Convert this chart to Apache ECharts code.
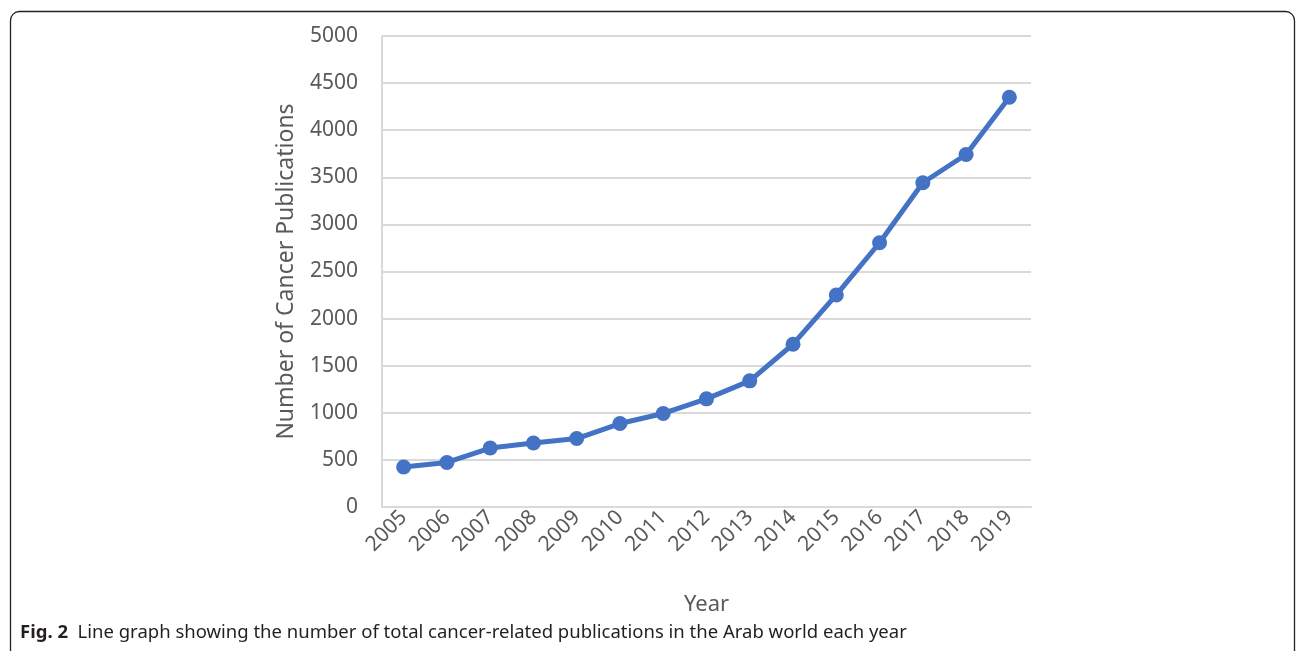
<!DOCTYPE html>
<html>
<head>
<meta charset="utf-8">
<script src="https://cdn.jsdelivr.net/npm/echarts@6/dist/echarts.min.js"></script>
<style>
  html, body { margin: 0; padding: 0; background: #fff; }
  #chart { width: 1296px; height: 651px; }
</style>
</head>
<body>
<div id="chart"></div>
<script>
// Annual counts of cancer-related publications, 2005–2019
const years = ['2005', '2006', '2007', '2008', '2009', '2010', '2011', '2012',
               '2013', '2014', '2015', '2016', '2017', '2018', '2019'];
const publications = [424, 473, 626, 679, 727, 886, 993, 1148,
                      1339, 1728, 2251, 2805, 3442, 3742, 4350];

const yAxisTitle = 'Number of Cancer Publications';
const xAxisTitle = 'Year';
const captionLead = 'Fig. 2';
const captionText = 'Line graph showing the number of total cancer-related publications in the Arab world each year';

const FONT = '"Noto Sans", "Open Sans", sans-serif';
const GREY_TEXT = '#595959';
const GRID_GREY = '#d9d9d9';

const chart = echarts.init(document.getElementById('chart'), null, { renderer: 'canvas' });

chart.setOption({
  animation: false,
  backgroundColor: '#ffffff',
  grid: { left: 382, right: 265, top: 36, bottom: 144 },
  xAxis: {
    type: 'category',
    data: years,
    boundaryGap: true,
    name: xAxisTitle,
    nameLocation: 'middle',
    nameGap: 87,
    nameTextStyle: { fontFamily: FONT, fontSize: 22, color: GREY_TEXT },
    axisLine: { show: true, lineStyle: { color: GRID_GREY, width: 2 } },
    axisTick: { show: false },
    axisLabel: {
      rotate: 45,
      margin: 7,
      fontFamily: FONT,
      fontSize: 21,
      color: GREY_TEXT
    },
    splitLine: { show: false }
  },
  yAxis: {
    type: 'value',
    min: 0,
    max: 5000,
    interval: 500,
    name: yAxisTitle,
    nameLocation: 'middle',
    nameGap: 84,
    nameRotate: 90,
    nameTextStyle: { fontFamily: FONT, fontSize: 23, color: GREY_TEXT },
    axisLine: { show: true, lineStyle: { color: GRID_GREY, width: 2 } },
    axisTick: { show: false },
    axisLabel: {
      margin: 24,
      fontFamily: FONT,
      fontSize: 21,
      color: GREY_TEXT,
      formatter: v => String(v)
    },
    splitLine: { show: true, lineStyle: { color: GRID_GREY, width: 2 } }
  },
  series: [{
    type: 'line',
    data: publications,
    symbol: 'circle',
    symbolSize: 15,
    lineStyle: { color: '#4472c4', width: 5 },
    itemStyle: { color: '#4472c4' }
  }],
  graphic: [
    {
      type: 'rect',
      shape: { x: 10.5, y: 11.5, width: 1284, height: 660, r: 9 },
      style: { fill: 'none', stroke: '#222', lineWidth: 1.3 },
      silent: true,
      z: -1
    },
    {
      type: 'text',
      left: 20,
      top: 623,
      style: {
        text: '{b|' + captionLead + '}  ' + captionText,
        fontFamily: FONT,
        fontSize: 18.5,
        fill: '#231f20',
        rich: {
          b: { fontFamily: FONT, fontSize: 18.5, fontWeight: 'bold', fill: '#231f20' }
        }
      }
    }
  ]
});
</script>
</body>
</html>
